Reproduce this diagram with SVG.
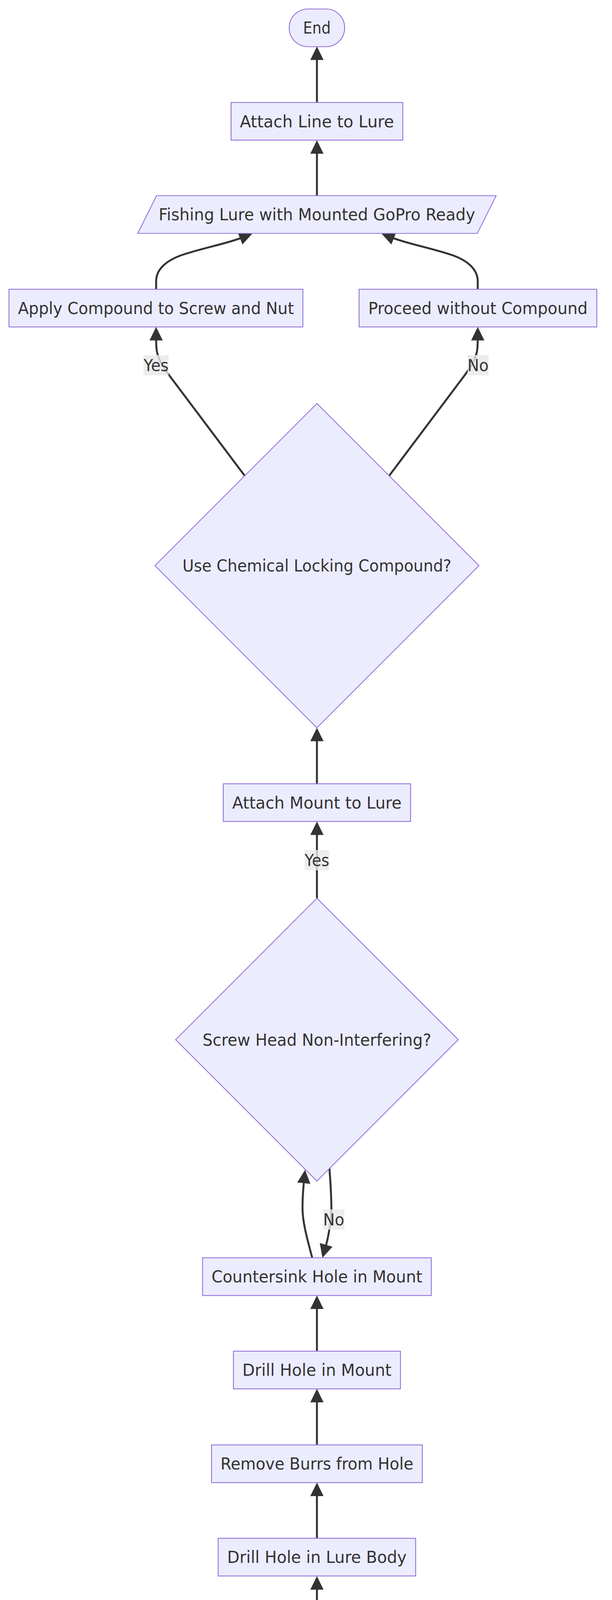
<svg xmlns="http://www.w3.org/2000/svg" width="1568" height="7794" viewBox="0 0 1568 7794">
<style>
.n{fill:#ECECFF;stroke:#9370DB;stroke-width:2.2}
.t{font-family:"DejaVu Sans","Liberation Sans",sans-serif;font-size:42px;fill:#333333;text-anchor:middle}
.e{fill:none;stroke:#333333;stroke-width:5;marker-end:url(#arr)}
.lb{fill:rgba(232,232,232,0.8);stroke:none}
</style>
<defs>
<marker id="arr" markerUnits="userSpaceOnUse" markerWidth="34.5" markerHeight="34" viewBox="0 0 34.5 34" refX="3" refY="17" orient="auto"><path d="M0,0 L34.5,17 L0,34 z" fill="#333333"/></marker>
</defs>
<rect width="1568" height="7794" fill="#ffffff"/>
<g id="edges">
<path class="e" d="M812,7595 V7483.6"/>
<path class="e" d="M812,7355.6 V7244.2"/>
<path class="e" d="M812,7116.2 V7004.8"/>
<path class="e" d="M812,6876.8 V6765.4"/>
<path class="e" d="M812,6637.4 V6526"/>
<path class="e" d="M812,6398 V6286.6"/>
<path class="e" d="M812,6158.6 V6047.2"/>
<path class="e" d="M812,5919.2 V5807.8"/>
<path class="e" d="M812,5679.8 V5568.4"/>
<path class="e" d="M812,5440.4 V5329"/>
<path class="e" d="M812,5201 V5090"/>
<path class="e" d="M800,4962 C788,4917 775,4872 775,4834 C775,4808 776.8,4786 778.6,4768"/>
<path class="e" d="M844,4733 C847,4772 849,4804 849,4837 C849,4867 840.5,4912 834.8,4931.7"/>
<path class="e" d="M812,4231 V4066.5"/>
<path class="e" d="M812,3938 V3827"/>
<path class="e" d="M812,3699 V3587"/>
<path class="e" d="M812,3459 V3348"/>
<path class="e" d="M800,3220 C788,3175 775,3130 775,3092 C775,3066 776.8,3044 778.6,3026"/>
<path class="e" d="M844,2991 C847,3030 849,3062 849,3095 C849,3125 840.5,3170 834.8,3189.7"/>
<path class="e" d="M812,2299.5 V2134.5"/>
<path class="e" d="M812,2006.5 V1894.5"/>
<path class="e" d="M627,1218 L445,976 C425,950 407,925 402,900 C400.7,892 400,882 400,868.5"/>
<path class="e" d="M997,1218 L1179,976 C1199,950 1217,925 1222,900 C1223.3,892 1224,882 1224,868.5"/>
<path class="e" d="M400,740.5 L400,720 C400,690 425,668 463,654 C510,637 580,624 617.7,609.1"/>
<path class="e" d="M1224,740.5 L1224,720 C1224,690 1199,668 1161,654 C1114,637 1044,624 1006.3,609.1"/>
<path class="e" d="M812,501 V390.5"/>
<path class="e" d="M812,262.3 V150.5"/>
</g>
<g id="edge-labels">
<g id="lbl-yes-apply"><rect class="lb" x="368" y="909" width="64" height="52"/><text class="t" x="400" y="950" textLength="64" lengthAdjust="spacingAndGlyphs">Yes</text></g>
<g id="lbl-no-proceed"><rect class="lb" x="1197.7" y="909" width="54" height="52"/><text class="t" x="1224.7" y="950" textLength="54" lengthAdjust="spacingAndGlyphs">No</text></g>
<g id="lbl-yes-attach"><rect class="lb" x="780.5" y="2176" width="63" height="52"/><text class="t" x="812" y="2217" textLength="63" lengthAdjust="spacingAndGlyphs">Yes</text></g>
<g id="lbl-no-countersink"><rect class="lb" x="828" y="3096" width="54" height="52"/><text class="t" x="855" y="3137" textLength="54" lengthAdjust="spacingAndGlyphs">No</text></g>
<g id="lbl-yes-drill"><rect class="lb" x="780.5" y="4107" width="63" height="52"/><text class="t" x="812" y="4148" textLength="63" lengthAdjust="spacingAndGlyphs">Yes</text></g>
<g id="lbl-no-rig"><rect class="lb" x="828" y="4838" width="54" height="52"/><text class="t" x="855" y="4879" textLength="54" lengthAdjust="spacingAndGlyphs">No</text></g>
</g>
<g id="End"><rect class="n" x="741" y="23" width="142" height="96.5" rx="48" ry="48"/><text class="t" x="812" y="86" textLength="71" lengthAdjust="spacingAndGlyphs">End</text></g>
<g id="AttachLine"><rect class="n" x="592" y="262.3" width="440" height="96.5"/><text class="t" x="812" y="325.5" textLength="395" lengthAdjust="spacingAndGlyphs">Attach Line to Lure</text></g>
<g id="LureReady"><polygon class="n" points="401,501 1271,501 1223,597.5 353,597.5"/><text class="t" x="812" y="564.3" textLength="811" lengthAdjust="spacingAndGlyphs">Fishing Lure with Mounted GoPro Ready</text></g>
<g id="ApplyCompound"><rect class="n" x="23" y="740.5" width="753" height="96.5"/><text class="t" x="399.5" y="803.8" textLength="707" lengthAdjust="spacingAndGlyphs">Apply Compound to Screw and Nut</text></g>
<g id="ProceedWithout"><rect class="n" x="920" y="740.5" width="609" height="96.5"/><text class="t" x="1224.5" y="803.8" textLength="562" lengthAdjust="spacingAndGlyphs">Proceed without Compound</text></g>
<g id="UseCompound"><polygon class="n" points="812,1033 1227,1448 812,1863 397,1448"/><text class="t" x="812" y="1463" textLength="689" lengthAdjust="spacingAndGlyphs">Use Chemical Locking Compound?</text></g>
<g id="AttachMount"><rect class="n" x="572" y="2006.5" width="480" height="96.5"/><text class="t" x="812" y="2069.8" textLength="434" lengthAdjust="spacingAndGlyphs">Attach Mount to Lure</text></g>
<g id="ScrewHead"><polygon class="n" points="812,2299.5 1174,2661.5 812,3023.5 450,2661.5"/><text class="t" x="812" y="2676.5" textLength="586" lengthAdjust="spacingAndGlyphs">Screw Head Non-Interfering?</text></g>
<g id="Countersink"><rect class="n" x="519" y="3220" width="586" height="96.5"/><text class="t" x="812" y="3283.3" textLength="540" lengthAdjust="spacingAndGlyphs">Countersink Hole in Mount</text></g>
<g id="DrillMount"><rect class="n" x="598" y="3459" width="428" height="96.5"/><text class="t" x="812" y="3522.3" textLength="382" lengthAdjust="spacingAndGlyphs">Drill Hole in Mount</text></g>
<g id="RemoveBurrs"><rect class="n" x="542" y="3699" width="540" height="96.5"/><text class="t" x="812" y="3762.3" textLength="494" lengthAdjust="spacingAndGlyphs">Remove Burrs from Hole</text></g>
<g id="DrillLure"><rect class="n" x="559" y="3938" width="506" height="96.5"/><text class="t" x="812" y="4001.3" textLength="460" lengthAdjust="spacingAndGlyphs">Drill Hole in Lure Body</text></g>
<g id="LineLength"><polygon class="n" points="812,4231 1079,4498 812,4765 545,4498"/><text class="t" x="812" y="4513" textLength="394" lengthAdjust="spacingAndGlyphs">Is Line &gt;= 130 feet?</text></g>
<g id="RigReel"><rect class="n" x="528" y="4962" width="568" height="96.5"/><text class="t" x="812" y="5025.3" textLength="522" lengthAdjust="spacingAndGlyphs">Rig Fishing Reel with Line</text></g>
<g id="SelectMount"><rect class="n" x="439" y="5201" width="746" height="96.5"/><text class="t" x="812" y="5264.3" textLength="700" lengthAdjust="spacingAndGlyphs">Select Mount Based on Lure Shape</text></g>
<g id="LockingCompound"><polygon class="n" points="428,5440.4 1244,5440.4 1196,5536.9 380,5536.9"/><text class="t" x="812" y="5503.7" textLength="756" lengthAdjust="spacingAndGlyphs">Optional chemical locking compound</text></g>
<g id="Nut"><polygon class="n" points="770,5679.8 902,5679.8 854,5776.3 722,5776.3"/><text class="t" x="812" y="5743.1" textLength="70" lengthAdjust="spacingAndGlyphs">Nut</text></g>
<g id="Screw"><polygon class="n" points="549,5919.2 1123,5919.2 1075,6015.7 501,6015.7"/><text class="t" x="812" y="5982.5" textLength="514" lengthAdjust="spacingAndGlyphs">Flat-head machine screw</text></g>
<g id="CounterSinkBit"><polygon class="n" points="440.5,6158.6 1231.5,6158.6 1183.5,6255.1 392.5,6255.1"/><text class="t" x="812" y="6221.9" textLength="730" lengthAdjust="spacingAndGlyphs">Counter sink bit or larger twist drill</text></g>
<g id="DrillBit"><polygon class="n" points="624.5,6398 1047.5,6398 999.5,6494.5 576.5,6494.5"/><text class="t" x="812" y="6461.3" textLength="362" lengthAdjust="spacingAndGlyphs">3/16 inch drill bit</text></g>
<g id="Drill"><polygon class="n" points="570.5,6637.4 1101.5,6637.4 1053.5,6733.9 522.5,6733.9"/><text class="t" x="812" y="6700.7" textLength="470" lengthAdjust="spacingAndGlyphs">Drill press or hand drill</text></g>
<g id="Lure"><polygon class="n" points="604.5,6876.8 1067.5,6876.8 1019.5,6973.3 556.5,6973.3"/><text class="t" x="812" y="6940.1" textLength="401" lengthAdjust="spacingAndGlyphs">Fishing lure (jigger)</text></g>
<g id="Mount"><polygon class="n" points="324.5,7116.2 1347.5,7116.2 1299.5,7212.7 276.5,7212.7"/><text class="t" x="812" y="7179.5" textLength="961" lengthAdjust="spacingAndGlyphs">Flat adhesive mount or curved adhesive mount</text></g>
<g id="Camera"><polygon class="n" points="593,7355.6 1079,7355.6 1031,7452.1 545,7452.1"/><text class="t" x="812" y="7418.9" textLength="425" lengthAdjust="spacingAndGlyphs">GoPro Hero2 Camera</text></g>
<g id="Start"><rect class="n" x="728" y="7595" width="167" height="96.5" rx="48" ry="48"/><text class="t" x="812" y="7658.3" textLength="99" lengthAdjust="spacingAndGlyphs">Start</text></g>
</svg>
